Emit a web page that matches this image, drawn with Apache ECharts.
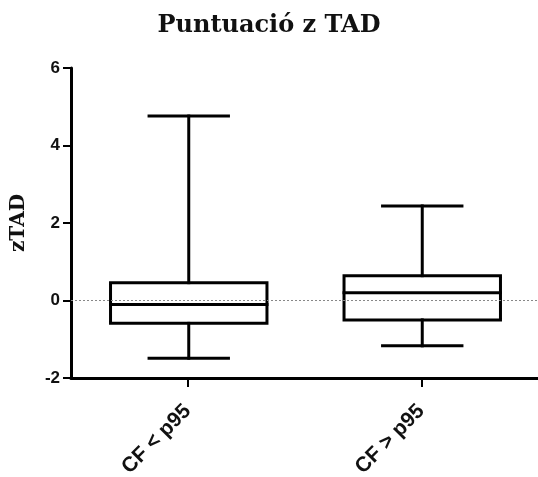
<!DOCTYPE html>
<html>
<head>
<meta charset="utf-8">
<script src="https://cdn.jsdelivr.net/npm/echarts@6/dist/echarts.min.js"></script>
<style>
  html, body { margin: 0; padding: 0; background: #fff; }
  #chart { width: 538px; height: 477px; }
</style>
</head>
<body>
<div id="chart"></div>
<script>
// categories and box values (min, q1, median, q3, max)
var categories = ['CF < p95', 'CF > p95'];
var whiskerMin = [-1.49, -1.17];
var quart1 = [-0.59, -0.50];
var medians = [-0.10, 0.20];
var quart3 = [0.46, 0.64];
var whiskerMax = [4.76, 2.44];
var yTicks = [-2, 0, 2, 4, 6];

var chart = echarts.init(document.getElementById('chart'));

var boxData = categories.map(function (c, i) {
    return [i, whiskerMin[i], quart1[i], medians[i], quart3[i], whiskerMax[i]];
});

function renderBox(params, api) {
    var idx = api.value(0);
    var band = api.size([1, 0])[0];
    var half = band * 0.335;
    var capHalf = band * 0.17;
    var pMin = api.coord([idx, api.value(1)]);
    var pQ1 = api.coord([idx, api.value(2)]);
    var pMed = api.coord([idx, api.value(3)]);
    var pQ3 = api.coord([idx, api.value(4)]);
    var pMax = api.coord([idx, api.value(5)]);
    var cx = pMed[0] + 1;
    var st = { stroke: '#000', lineWidth: 3, fill: null, lineCap: 'square' };
    return {
        type: 'group',
        children: [
            { type: 'line', shape: { x1: cx, y1: pQ3[1], x2: cx, y2: pMax[1] }, style: st },
            { type: 'line', shape: { x1: cx, y1: pQ1[1], x2: cx, y2: pMin[1] }, style: st },
            { type: 'line', shape: { x1: cx - capHalf, y1: pMax[1], x2: cx + capHalf, y2: pMax[1] }, style: st },
            { type: 'line', shape: { x1: cx - capHalf, y1: pMin[1], x2: cx + capHalf, y2: pMin[1] }, style: st },
            { type: 'rect', shape: { x: cx - half, y: pQ3[1], width: half * 2, height: pQ1[1] - pQ3[1] },
              style: { stroke: '#000', lineWidth: 3, fill: null } },
            { type: 'line', shape: { x1: cx - half, y1: pMed[1], x2: cx + half, y2: pMed[1] }, style: st }
        ]
    };
}

var option = {
    animation: false,
    title: {
        text: 'Puntuació z TAD',
        left: 'center',
        top: 9,
        textStyle: { fontFamily: 'DejaVu Serif', fontWeight: 'bold', fontSize: 24, color: '#111' }
    },
    grid: { left: 71, right: 0, top: 68, bottom: 99, outerBoundsMode: 'none', containLabel: false },
    xAxis: {
        type: 'category',
        data: categories,
        boundaryGap: true,
        axisLine: { onZero: false, lineStyle: { color: '#000', width: 3 } },
        axisTick: { show: true, alignWithLabel: true, interval: 0, length: 9, lineStyle: { color: '#000', width: 2 } },
        axisLabel: {
            rotate: 45, margin: 30, interval: 0,
            fontFamily: 'Liberation Sans', fontWeight: 'bold', fontSize: 21, color: '#111'
        },
        splitLine: { show: false }
    },
    yAxis: {
        type: 'value',
        min: yTicks[0],
        max: yTicks[yTicks.length - 1],
        interval: 2,
        name: 'zTAD',
        nameLocation: 'middle',
        nameRotate: 90,
        nameGap: 42,
        nameTextStyle: { fontFamily: 'DejaVu Serif', fontWeight: 'bold', fontSize: 20, color: '#111' },
        axisLine: { show: true, lineStyle: { color: '#000', width: 3 } },
        axisTick: { show: true, length: 8, lineStyle: { color: '#000', width: 2 } },
        axisLabel: {
            margin: 11,
            fontFamily: 'Liberation Sans', fontWeight: 'bold', fontSize: 17, color: '#111'
        },
        splitLine: { show: false }
    },
    series: [{
        type: 'custom',
        renderItem: renderBox,
        data: boxData,
        encode: { x: 0, y: [1, 2, 3, 4, 5] },
        markLine: {
            silent: true,
            symbol: 'none',
            label: { show: false },
            lineStyle: { color: '#888', type: [2, 2], width: 1 },
            data: [{ yAxis: 0 }]
        }
    }]
};

chart.setOption(option);
</script>
</body>
</html>
